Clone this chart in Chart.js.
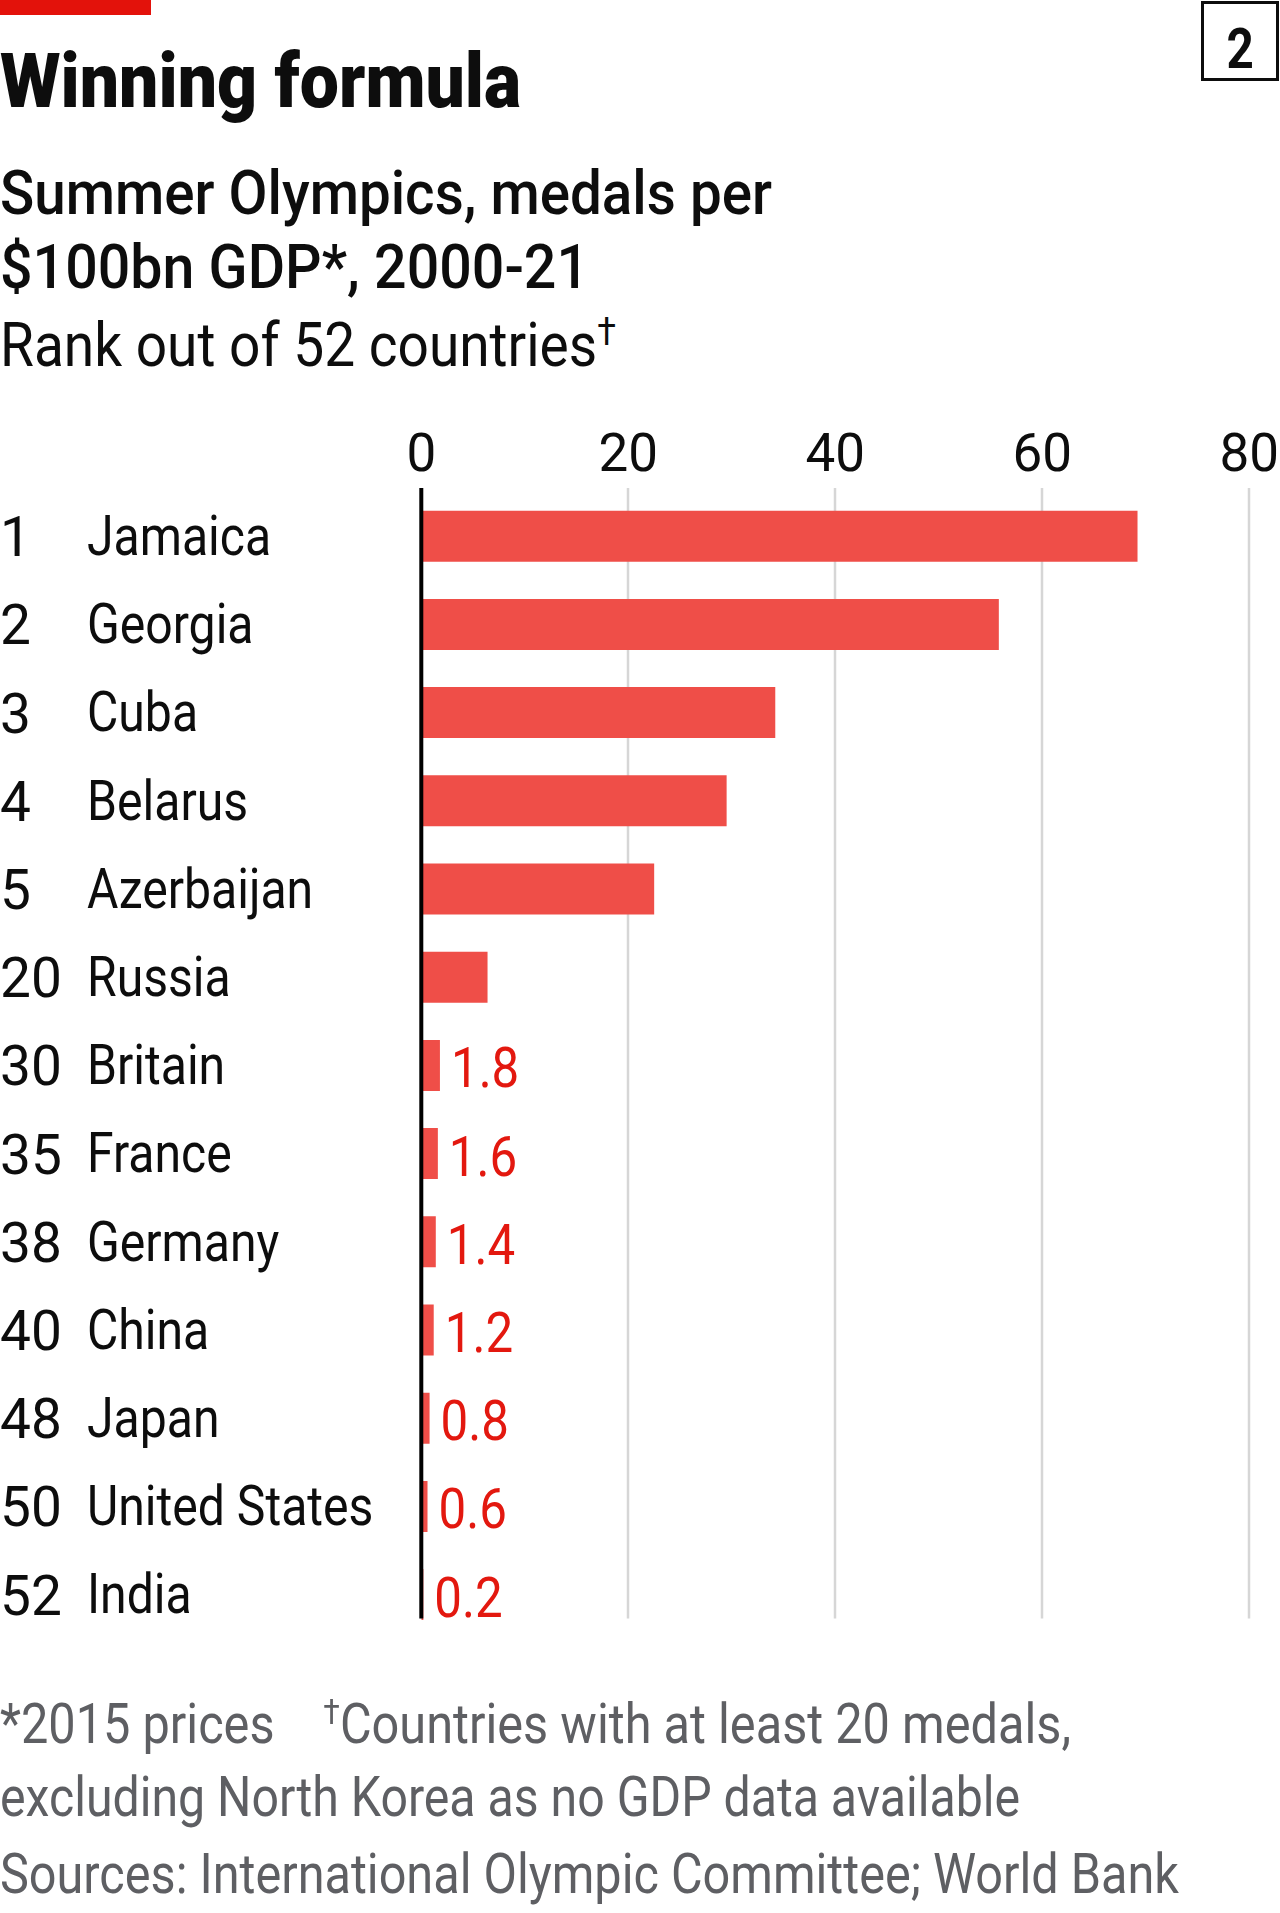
<!DOCTYPE html>
<html>
<head>
<meta charset="utf-8">
<script src="https://cdn.jsdelivr.net/npm/chart.js@4.4.1/dist/chart.umd.min.js"></script>
<style>
  html, body { margin:0; padding:0; background:#fff; }
  body { width:1280px; height:1913px; position:relative; overflow:hidden; font-family: Roboto, "Liberation Sans", sans-serif; color:#0d0d0d; }
  .t { position:absolute; left:0; white-space:nowrap; transform-origin:0 0; display:inline-block; }
  .dag { font-size:0.62em; position:relative; top:-0.55em; }
  #redbar { position:absolute; left:0; top:0; width:151px; height:15px; background:#e3120b; }
  #box { position:absolute; left:1201px; top:1px; width:78px; height:80px; box-sizing:border-box; border:3px solid #0d0d0d; }
  #boxnum { position:absolute; left:1201px; width:78px; top:21px; text-align:center; font-weight:700; font-size:56px; line-height:56px; }
  #wrap { position:absolute; left:0; top:400px; width:1340px; height:1300px; }
</style>
</head>
<body>
<div id="redbar"></div>
<div id="box"></div>
<div id="boxnum"><span style="display:inline-block;transform:scaleX(0.85)">2</span></div>

<div class="t" data-w="521" style="top:43px;font-size:76px;line-height:76px;font-weight:900;">Winning formula</div>
<div class="t" data-w="772" style="top:162px;font-size:62px;line-height:62px;font-weight:500;">Summer Olympics, medals per</div>
<div class="t" data-w="589" style="top:236px;font-size:62px;line-height:62px;font-weight:500;">$100bn GDP*, 2000-21</div>
<div class="t" data-w="616" style="top:314px;font-size:62px;line-height:62px;font-weight:400;">Rank out of 52 countries<span class="dag">†</span></div>

<div id="wrap"><canvas id="c" width="1340" height="1300"></canvas></div>

<div class="t" data-w="1071" style="top:1696px;font-size:56px;line-height:56px;color:#5e5f63;">*2015 prices<span style="display:inline-block;width:56px"></span><span class="dag">†</span>Countries with at least 20 medals,</div>
<div class="t" data-w="1020" style="top:1769px;font-size:56px;line-height:56px;color:#5e5f63;">excluding North Korea as no GDP data available</div>
<div class="t" data-w="1179" style="top:1846px;font-size:56px;line-height:56px;color:#5e5f63;">Sources: International Olympic Committee; World Bank</div>

<script>
// ---- data ----
const categories = ['Jamaica','Georgia','Cuba','Belarus','Azerbaijan','Russia','Britain','France','Germany','China','Japan','United States','India'];
const ranks = ['1','2','3','4','5','20','30','35','38','40','48','50','52'];
const medalsPer100bnGDP = [69.2, 55.8, 34.2, 29.5, 22.5, 6.4, 1.8, 1.6, 1.4, 1.2, 0.8, 0.6, 0.2];
const valueLabels = [null, null, null, null, null, null, '1.8', '1.6', '1.4', '1.2', '0.8', '0.6', '0.2'];
const xTickValues = [0, 20, 40, 60, 80];

// ---- condense html text to reference widths ----
document.querySelectorAll('.t').forEach(el => {
  const target = parseFloat(el.dataset.w);
  const w = el.getBoundingClientRect().width;
  if (w > 0) el.style.transform = 'scaleX(' + (target / w) + ')';
});

const FAMILY = 'Roboto, sans-serif';
const LABEL_SIZE = 55;
const LABEL_SQUEEZE = 0.875;
const VALUE_SIZE = 56;
const VALUE_SQUEEZE = 0.88;
const INK = '#0d0d0d';
const BAR = '#ef4e48';
const RED = '#e3180f';

const decor = {
  id: 'decor',
  beforeDraw(chart) {
    const ys = chart.scales.y;
    if (!ys._condensed) {
      const orig = ys.drawLabels.bind(ys);
      ys.drawLabels = function (area) {
        const ctx = this.ctx;
        ctx.save();
        ctx.translate(this.left, 0);
        ctx.scale(LABEL_SQUEEZE, 1);
        ctx.translate(-this.left, 0);
        orig(area);
        ctx.restore();
      };
      ys._condensed = true;
    }
  },
  beforeDatasetsDraw(chart) {
    const ctx = chart.ctx, xs = chart.scales.x, ys = chart.scales.y;
    const step = ys.getPixelForValue(1) - ys.getPixelForValue(0);
    const top = chart.chartArea.top - 4;
    const bottom = ys.getPixelForValue(categories.length - 1) + step * 0.27;
    ctx.save();
    ctx.strokeStyle = '#d6d6d6';
    ctx.lineWidth = 2.5;
    xTickValues.forEach(v => {
      if (v === 0) return;
      const x = Math.round(xs.getPixelForValue(v));
      ctx.beginPath(); ctx.moveTo(x, top); ctx.lineTo(x, bottom); ctx.stroke();
    });
    ctx.restore();
  },
  afterDatasetsDraw(chart) {
    const ctx = chart.ctx, xs = chart.scales.x, ys = chart.scales.y;
    const step = ys.getPixelForValue(1) - ys.getPixelForValue(0);
    const top = chart.chartArea.top - 4;
    const bottom = ys.getPixelForValue(categories.length - 1) + step * 0.27;
    ctx.save();
    // zero line
    const x0 = xs.getPixelForValue(0);
    ctx.strokeStyle = '#000';
    ctx.lineWidth = 4;
    ctx.beginPath(); ctx.moveTo(x0, top); ctx.lineTo(x0, bottom); ctx.stroke();
    // ranks
    ctx.fillStyle = INK;
    ctx.font = LABEL_SIZE + 'px ' + FAMILY;
    ctx.textAlign = 'left';
    ctx.textBaseline = 'alphabetic';
    ranks.forEach((r, i) => ctx.fillText(r, 0, ys.getPixelForValue(i) + 20));
    // value labels
    ctx.fillStyle = RED;
    ctx.font = VALUE_SIZE + 'px ' + FAMILY;
    valueLabels.forEach((lab, i) => {
      if (!lab) return;
      ctx.save();
      ctx.translate(xs.getPixelForValue(medalsPer100bnGDP[i]) + 11, ys.getPixelForValue(i) + 22);
      ctx.scale(VALUE_SQUEEZE, 1);
      ctx.fillText(lab, 0, 0);
      ctx.restore();
    });
    ctx.restore();
  }
};

new Chart(document.getElementById('c'), {
  type: 'bar',
  data: {
    labels: categories,
    datasets: [{
      data: medalsPer100bnGDP,
      backgroundColor: BAR,
      borderWidth: 0,
      categoryPercentage: 1,
      barPercentage: 0.578
    }]
  },
  options: {
    indexAxis: 'y',
    responsive: false,
    animation: false,
    devicePixelRatio: 1,
    layout: { padding: { left: 87, right: 90.7, top: 0, bottom: 61.3 } },
    plugins: { legend: { display: false }, tooltip: { enabled: false } },
    scales: {
      x: {
        position: 'top',
        min: 0, max: 80,
        afterBuildTicks(scale) { scale.ticks = xTickValues.map(v => ({ value: v })); },
        afterFit(scale) { scale.height = 92.1; },
        ticks: { font: { family: FAMILY, size: 53 }, color: INK, padding: 3, maxRotation: 0, autoSkip: false },
        grid: { display: false, drawTicks: false },
        border: { display: false }
      },
      y: {
        position: 'left',
        afterFit(scale) { scale.width = 334.3; },
        ticks: { font: { family: FAMILY, size: LABEL_SIZE }, color: INK, crossAlign: 'far', padding: 0, labelOffset: 5, autoSkip: false },
        grid: { display: false, drawTicks: false },
        border: { display: false }
      }
    }
  },
  plugins: [decor]
});
</script>
</body>
</html>
